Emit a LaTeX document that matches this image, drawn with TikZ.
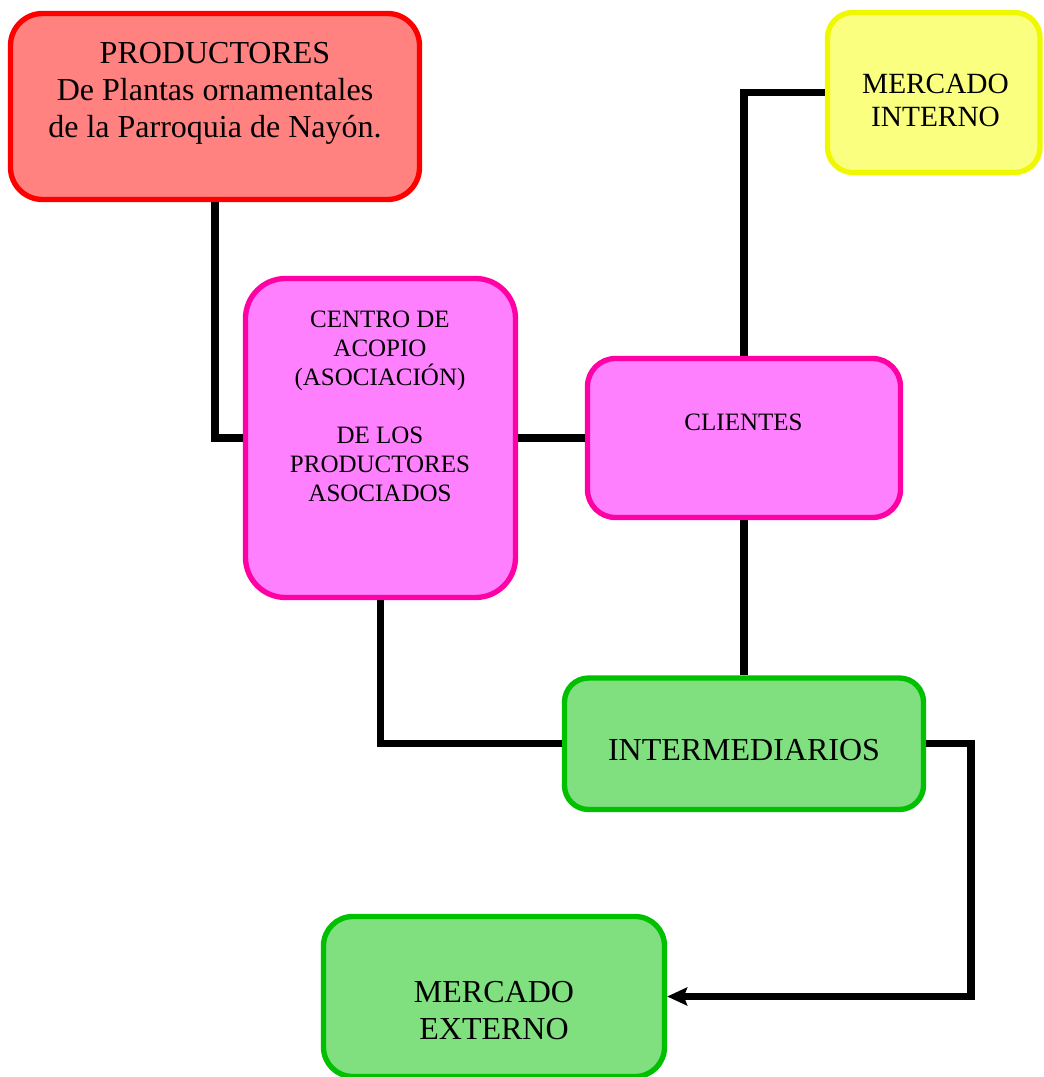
\documentclass[tikz,border=0pt]{standalone}
\usepackage{fontspec}
\setmainfont{Liberation Serif}
\usetikzlibrary{arrows.meta}

\definecolor{redline}{RGB}{255,0,0}
\definecolor{redfill}{RGB}{255,130,128}
\definecolor{pinkline}{RGB}{255,0,165}
\definecolor{pinkfill}{RGB}{255,128,255}
\definecolor{yellowline}{RGB}{240,248,0}
\definecolor{yellowfill}{RGB}{250,255,128}
\definecolor{greenline}{RGB}{0,192,0}
\definecolor{greenfill}{RGB}{128,224,128}

\begin{document}
\begin{tikzpicture}[x=0.75pt,y=-0.75pt,
  box/.style={draw, line width=4pt, rectangle, inner sep=0pt},
  redbox/.style={box, draw=redline, fill=redfill},
  pinkbox/.style={box, draw=pinkline, fill=pinkfill},
  yellowbox/.style={box, draw=yellowline, fill=yellowfill},
  greenbox/.style={box, draw=greenline, fill=greenfill},
  wire/.style={line width=5.5pt, line join=miter, draw=black},
  lbl/.style={inner sep=0pt, align=center, text=black},
  bigtxt/.style={font=\fontsize{24pt}{27.75pt}\selectfont},
  midtxt/.style={font=\fontsize{22pt}{25pt}\selectfont},
  smalltxt/.style={font=\fontsize{18.75pt}{21.75pt}\selectfont},
]
\useasboundingbox (0,0) rectangle (1043,1077);

% boxes
\node[redbox, rounded corners=24pt, minimum width=306.75pt, minimum height=139.5pt] (prod) at (215,106.5) {};
\node[pinkbox, rounded corners=30pt, minimum width=202.5pt, minimum height=239.25pt] (centro) at (380.5,438) {};
\node[pinkbox, rounded corners=21pt, minimum width=234.75pt, minimum height=119.25pt] (cli) at (744,438) {};
\node[yellowbox, rounded corners=19pt, minimum width=159.4pt, minimum height=120pt] (mint) at (933.75,92.5) {};
\node[greenbox, rounded corners=18pt, minimum width=269.25pt, minimum height=98.6pt] (inter) at (744,743.75) {};
\node[greenbox, rounded corners=22pt, minimum width=255.75pt, minimum height=120pt] (mext) at (494,996.5) {};

% labels
\node[lbl, bigtxt] (prodtxt) at (215,93.5) {PRODUCTORES\\De Plantas ornamentales\\de la Parroquia de Nayón.};
\node[lbl, smalltxt] (centrotxt) at (380,406) {CENTRO DE\\ACOPIO\\(ASOCIACIÓN)\\[21.75pt]DE LOS\\PRODUCTORES\\ASOCIADOS};
\node[lbl, smalltxt] (clitxt) at (743.5,422.5) {CLIENTES};
\node[lbl, midtxt] (minttxt) at (935.5,100.5) {MERCADO\\INTERNO};
\node[lbl, bigtxt] (intertxt) at (744,750.5) {INTERMEDIARIOS};
\node[lbl, bigtxt] (mexttxt) at (494,1010.5) {MERCADO\\EXTERNO};

% connectors
\draw[wire] (prod.south) |- (centro.west);
\draw[wire] (centro.east) -- (cli.west);
\draw[wire] (cli.north) |- (mint.west);
\draw[wire] (cli.south) -- (inter.north);
\draw[wire] (centro.south) |- (inter.west);
\coordinate (bend) at (971,996.5);
\draw[wire, -{Stealth[length=15pt,width=13.5pt,inset=2.5pt]}] (inter.east) -| (bend) -- (mext.east);
\end{tikzpicture}
\end{document}
